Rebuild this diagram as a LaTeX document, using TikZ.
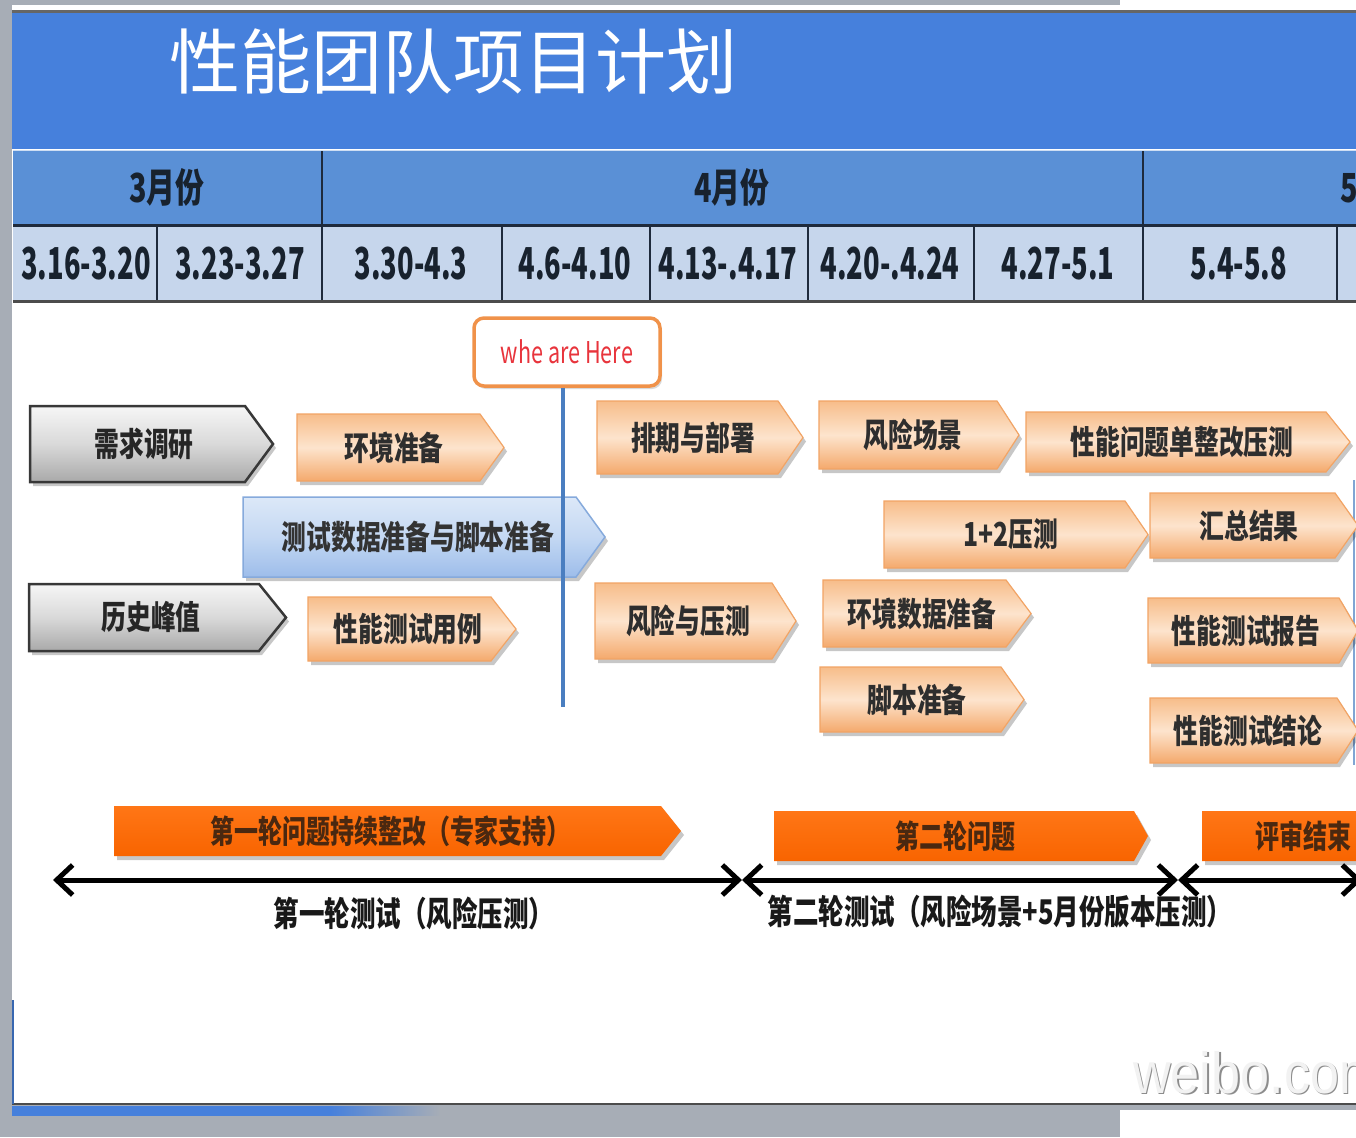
\documentclass[tikz,border=0pt]{standalone}
\usepackage{fontspec}
\usetikzlibrary{arrows.meta,shadows}
\newfontfamily\cjk[FakeStretch=0.75]{Noto Sans CJK SC}
\newfontfamily\cjkh[FakeStretch=0.72]{Noto Sans CJK SC}
\newfontfamily\cjkd[FakeStretch=0.62]{Noto Sans CJK SC}
\newfontfamily\cjkn[FakeStretch=0.72]{Noto Sans CJK SC}
\newfontfamily\cjkw{Noto Sans CJK SC}
\newfontfamily\wmfont[FakeStretch=0.9]{Liberation Sans}
\definecolor{bggray}{HTML}{A7ADB6}
\definecolor{titleblue}{HTML}{4680DC}
\definecolor{row1}{HTML}{5A90D6}
\definecolor{row2}{HTML}{C6D6EC}
\definecolor{grid}{HTML}{1E2A3C}
\definecolor{hdrtxt}{HTML}{18222E}
\definecolor{otop}{HTML}{F7BD8A}
\definecolor{omid}{HTML}{FDE4CD}
\definecolor{obot}{HTML}{F4A96C}
\definecolor{oedge}{HTML}{F2A465}
\definecolor{gtop}{HTML}{F6F6F6}
\definecolor{gmid}{HTML}{D9D9D9}
\definecolor{gbot}{HTML}{A9A9A9}
\definecolor{btop}{HTML}{DCE8F8}
\definecolor{bmid}{HTML}{C4D8F3}
\definecolor{bbot}{HTML}{9DBDEA}
\definecolor{bedge}{HTML}{86AADC}
\definecolor{rtop}{HTML}{FF7616}
\definecolor{rbot}{HTML}{F86400}
\definecolor{rtxt}{HTML}{4A2810}
\definecolor{herered}{HTML}{E8343C}
\definecolor{hereedge}{HTML}{F0924A}
\definecolor{markblue}{HTML}{4A7EC0}
\tikzset{
  shadowed/.style={drop shadow={shadow xshift=3pt,shadow yshift=-4pt,fill=black,opacity=0.22}},
  graybox/.style={shadowed,draw=black!78,line width=2.5pt,top color=gtop,bottom color=gbot,middle color=gmid},
  orangebox/.style={shadowed,draw=oedge,line width=1.2pt,top color=otop,bottom color=obot,middle color=omid},
  bluebox/.style={shadowed,draw=bedge,line width=1.5pt,top color=btop,bottom color=bbot,middle color=bmid},
  redbox/.style={shadowed,top color=rtop,bottom color=rbot},
  grayboxtxt/.style={inner sep=0pt,font=\cjk\bfseries\fontsize{33}{36}\selectfont,text=black!85},
  orangeboxtxt/.style={inner sep=0pt,font=\cjk\bfseries\fontsize{33}{36}\selectfont,text=black!82},
  blueboxtxt/.style={inner sep=0pt,font=\cjk\bfseries\fontsize{33}{36}\selectfont,text=black!80},
  redboxtxt/.style={inner sep=0pt,font=\cjk\bfseries\fontsize{32}{35}\selectfont,text=rtxt},
  hdr/.style={inner sep=0pt,font=\cjkh\bfseries\fontsize{40}{44}\selectfont,text=hdrtxt},
  wk/.style={inner sep=0pt,font=\cjkd\bfseries\fontsize{44}{48}\selectfont,text=hdrtxt},
  gridline/.style={draw=grid,line width=2pt},
  marker/.style={draw=hereedge,line width=3.5pt,fill=white,rounded corners=10pt,minimum width=186pt,minimum height=68pt,inner sep=0pt,
    font=\cjkn\fontsize{30}{33}\selectfont,text=herered,drop shadow={shadow xshift=2pt,shadow yshift=-3pt,fill=black,opacity=0.15}},
  markline/.style={draw=markblue,line width=3.5pt},
  tline/.style={line width=5pt,black,{Straight Barb[length=16pt,width=30pt,line width=5pt]}-{Straight Barb[length=16pt,width=30pt,line width=5pt]}},
  tlabel/.style={inner sep=0pt,font=\cjk\bfseries\fontsize{34}{37}\selectfont,text=black!90},
}
% #1 style, #2 x1, #3 y1, #4 body right, #5 tip x, #6 y2, #7 name, #8 text x, #9 text
\newcommand\chev[9]{%
  \path[#1] (#2,#3) -- (#4,#3) -- (#5,{(#3+#6)/2}) -- (#4,#6) -- (#2,#6) -- cycle;
  \node[#1txt] (#7) at (#8,{(#3+#6)/2}) {#9};}
\begin{document}
\begin{tikzpicture}[x=1pt,y=-1pt]
\useasboundingbox (0,0) rectangle (1356,1137);
\clip (0,0) rectangle (1356,1137);
% frame
\fill[bggray] (0,0) rectangle (1356,1137);
\fill[white] (1120,0) rectangle (1356,5);
\fill[white] (12,5) rectangle (1356,11);
\draw[black!60,line width=3pt] (12,11.5) -- (1356,11.5);
\fill[titleblue] (12,13) rectangle (1356,149);
\fill[white] (12,149) rectangle (1356,1103);
\draw[black!70,line width=2.5pt] (12,1104) -- (1356,1104);
\shade[left color=titleblue,right color=titleblue] (12,1106) rectangle (330,1115);
\shade[left color=titleblue,right color=bggray] (330,1106) rectangle (440,1115);
\fill[white] (1120,1110) rectangle (1356,1137);
\draw[titleblue!80!black,line width=2pt] (13,1000) -- (13,1104);
\draw[markblue!70,line width=1.2pt] (1354,480) -- (1354,765);
% title
\node[inner sep=0pt,font=\cjkw\fontsize{71}{76}\selectfont,text=white] (title) at (453,62) {性能团队项目计划};
% header table
\fill[row1] (13,150) rectangle (1356,225);
\fill[row2] (13,225) rectangle (1356,301);
\draw[white!70!row1,line width=1.5pt] (13,150.5) -- (1356,150.5);
\draw[gridline,line width=3pt] (13,225) -- (1356,225);
\draw[gridline,draw=black!70,line width=3pt] (13,301) -- (1356,301);
\foreach \xx in {322,1143} \draw[gridline] (\xx,151) -- (\xx,225);
\foreach \xx in {157,322,502,650,808,974,1143,1337} \draw[gridline] (\xx,225) -- (\xx,300);
\node[hdr] (m3) at (167,187) {3月份};
\node[hdr] (m4) at (732,187) {4月份};
\node[hdr,anchor=west] (m5) at (1340,187) {5月份};
\node[wk] (w1) at (86,264) {3.16-3.20};
\node[wk] (w2) at (240,264) {3.23-3.27};
\node[wk] (w3) at (411,264) {3.30-4.3};
\node[wk] (w4) at (575,264) {4.6-4.10};
\node[wk] (w5) at (728,264) {4.13-.4.17};
\node[wk] (w6) at (890,264) {4.20-.4.24};
\node[wk] (w7) at (1058,264) {4.27-5.1};
\node[wk] (w8) at (1239,264) {5.4-5.8};
% task chevrons
\chev{graybox}{30}{406}{245}{273}{482}{n1}{144}{需求调研}
\chev{graybox}{29}{584}{259}{286}{651}{n2}{151}{历史峰值}
\chev{orangebox}{297}{414}{480}{504}{481}{n3}{394}{环境准备}
\chev{orangebox}{308}{597}{491}{516}{661}{n4}{408}{性能测试用例}
\chev{bluebox}{243}{497}{576}{605}{577}{n5}{418}{测试数据准备与脚本准备}
\chev{orangebox}{597}{401}{778}{803}{474}{n6}{693}{排期与部署}
\chev{orangebox}{595}{583}{772}{796}{659}{n7}{688}{风险与压测}
\chev{orangebox}{819}{401}{997}{1019}{469}{n8}{913}{风险场景}
\chev{orangebox}{1026}{412}{1326}{1350}{472}{n9}{1182}{性能问题单整改压测}
\chev{orangebox}{884}{501}{1125}{1148}{568}{n10}{1011}{1+2压测}
\chev{orangebox}{1150}{493}{1335}{1358}{558}{n11}{1249}{汇总结果}
\chev{orangebox}{823}{580}{1006}{1031}{647}{n12}{922}{环境数据准备}
\chev{orangebox}{820}{667}{1001}{1024}{732}{n13}{917}{脚本准备}
\chev{orangebox}{1148}{598}{1339}{1358}{663}{n14}{1246}{性能测试报告}
\chev{orangebox}{1150}{698}{1337}{1358}{763}{n15}{1248}{性能测试结论}
% we are here marker
\node[marker] (here) at (567,352) {whe are Here};
\coordinate (hereEnd) at (563,707);
\draw[markline] (here.south -| hereEnd) -- (hereEnd);
% bottom bars
\chev{redbox}{114}{806}{661}{681}{856}{b1}{390}{第一轮问题持续整改（专家支持）}
\chev{redbox}{774}{811}{1134}{1148}{861}{b2}{955}{第二轮问题}
\chev{redbox}{1202}{811}{1400}{1420}{861}{b3}{1303}{评审结束}
% timeline
\coordinate (t0) at (53,880);
\coordinate (t1) at (742,880);
\coordinate (t2) at (1178,880);
\coordinate (t3) at (1362,880);
\draw[tline] (t0) -- (t1);
\draw[tline] (t1) -- (t2);
\draw[tline] (t2) -- (t3);
\node[tlabel] (l1) at (414,913) {第一轮测试（风险压测）};
\node[tlabel] (l2) at (1000,912) {第二轮测试（风险场景+5月份版本压测）};
% watermark
\node[inner sep=0pt,anchor=base west,font=\wmfont\fontsize{58}{60}\selectfont,text=black!45] (wms) at (1134.5,1094.5) {weibo.com};
\node[inner sep=0pt,anchor=base west,font=\wmfont\fontsize{58}{60}\selectfont,text=black!5] (wm) at (1133,1093) {weibo.com};
\end{tikzpicture}
\end{document}
